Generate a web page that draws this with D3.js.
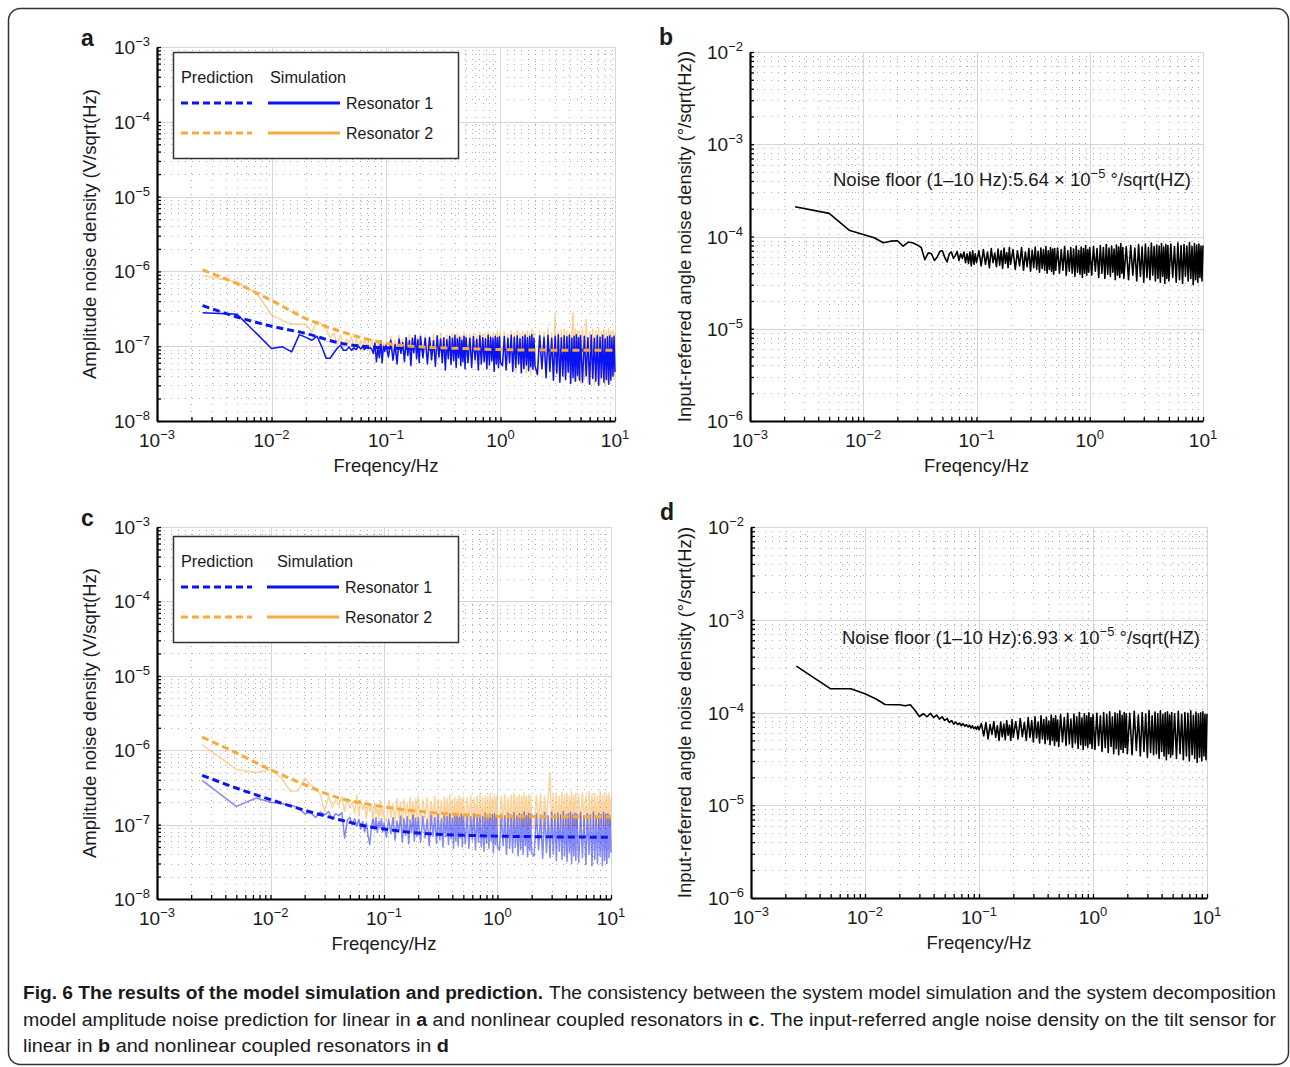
<!DOCTYPE html>
<html>
<head>
<meta charset="utf-8">
<script src="https://cdn.jsdelivr.net/npm/d3@7"></script>
<style>
  body { margin: 0; background: #fff; }
  svg text { font-family: "Liberation Sans", Arial, Helvetica, sans-serif; fill: #1a1a1a; }
  .major { stroke: #d6d6d6; stroke-width: 1; }
  .minor { stroke: #8c8c8c; stroke-width: 1; stroke-dasharray: 1 6; opacity: .7; }
</style>
</head>
<body>
<div id="fig"></div>
<script>

// frequency grid shared by all simulated / measured spectra (Hz)
const freq = [
  0.0025, 0.005, 0.0075, 0.01,
  0.0125, 0.015, 0.0175, 0.02, 0.0225, 0.025, 0.0275, 0.03, 0.0325, 0.035, 0.0375, 0.04, 0.0425, 0.045, 0.0475, 0.05,
  0.0525, 0.055, 0.0575, 0.06, 0.0625, 0.065, 0.0675, 0.07, 0.0725, 0.075, 0.0775, 0.08, 0.0825, 0.085, 0.0875, 0.09, 0.0925, 0.095, 0.0975, 0.1,
  0.105, 0.11, 0.115, 0.12, 0.125, 0.13, 0.135, 0.14, 0.145, 0.15, 0.155, 0.16, 0.165, 0.17, 0.175, 0.18, 0.185, 0.19, 0.195, 0.2,
  0.21, 0.22, 0.23, 0.24, 0.25, 0.26, 0.27, 0.28, 0.29, 0.3, 0.31, 0.32, 0.33, 0.34, 0.35, 0.36, 0.37, 0.38, 0.39, 0.4, 0.41, 0.42, 0.43, 0.44, 0.45, 0.46, 0.47, 0.48, 0.49, 0.5,
  0.52, 0.54, 0.56, 0.58, 0.6, 0.62, 0.64, 0.66, 0.68, 0.7, 0.72, 0.74, 0.76, 0.78, 0.8, 0.82, 0.84, 0.86, 0.88, 0.9, 0.92, 0.94, 0.96, 0.98, 1.0,
  1.04, 1.08, 1.12, 1.16, 1.2, 1.24, 1.28, 1.32, 1.36, 1.4, 1.44, 1.48, 1.52, 1.56, 1.6, 1.64, 1.68, 1.72, 1.76, 1.8, 1.84, 1.88, 1.92, 1.96, 2.0,
  2.1, 2.2, 2.3, 2.4, 2.5, 2.6, 2.7, 2.8, 2.9, 3.0, 3.1, 3.2, 3.3, 3.4, 3.5, 3.6, 3.7, 3.8, 3.9, 4.0, 4.1, 4.2, 4.3, 4.4, 4.5, 4.6, 4.7, 4.8, 4.9, 5.0,
  5.2, 5.4, 5.6, 5.8, 6.0, 6.2, 6.4, 6.6, 6.8, 7.0, 7.2, 7.4, 7.6, 7.8, 8.0, 8.2, 8.4, 8.6, 8.8, 9.0, 9.2, 9.4, 9.6, 9.8, 10
];

// amplitude noise, units of 1e-9 V/sqrt(Hz)
const simA1 = [
  281, 267, 145, 93,
  98, 84, 143, 131, 120, 136, 98, 69, 69, 81, 94, 103, 88, 88, 98, 88,
  95, 90, 100, 92, 98, 90, 96, 93, 95, 92, 80, 110, 62, 95, 70, 118, 60, 100, 85, 104,
  72, 120, 65, 105, 58, 125, 80, 112, 62, 130, 75, 118, 55, 128, 82, 140, 68, 122, 60, 135,
  70, 128, 58, 132, 66, 118, 54, 138, 72, 125, 60, 130, 48, 122, 68, 135, 57, 128, 64, 140, 52, 126, 70, 132, 55, 120, 62, 136, 50, 130,
  60, 128, 52, 135, 66, 124, 48, 138, 58, 130, 62, 126, 50, 140, 56, 132, 64, 128, 46, 136, 58, 130, 52, 134, 60,
  55, 135, 48, 128, 60, 140, 46, 132, 52, 138, 58, 126, 44, 134, 50, 140, 56, 130, 47, 136, 53, 142, 49, 128, 55,
  42, 138, 50, 132, 38, 140, 46, 128, 35, 136, 44, 142, 33, 130, 40, 138, 36, 134, 45, 140, 32, 128, 38, 136, 34, 142, 41, 130, 35, 138,
  33, 136, 40, 130, 31, 140, 37, 128, 34, 138, 30, 132, 38, 140, 33, 126, 36, 134, 31, 138, 35, 130, 40, 136, 45
];
const simA2 = [
  885, 720, 500, 260,
  220, 197, 197, 197, 155, 217, 197, 170, 130, 150, 105, 140, 95, 125, 110, 135,
  90, 128, 100, 118, 85, 130, 98, 112, 80, 125, 95, 108, 88, 120, 92, 115, 85, 110, 95, 105,
  75, 135, 85, 120, 70, 140, 90, 125, 68, 130, 82, 145, 72, 128, 88, 138, 65, 132, 80, 142,
  70, 140, 85, 130, 62, 145, 78, 135, 66, 150, 80, 128, 60, 142, 74, 138, 58, 148, 82, 132, 64, 150, 76, 140, 60, 135, 72, 155, 66, 138,
  62, 145, 70, 150, 58, 140, 76, 155, 56, 142, 68, 148, 52, 160, 66, 140, 60, 152, 55, 145, 70, 158, 50, 148, 62,
  55, 155, 48, 145, 62, 160, 50, 150, 45, 165, 58, 148, 46, 158, 52, 150, 44, 162, 56, 148, 42, 170, 50, 155, 48,
  40, 160, 50, 155, 38, 175, 46, 150, 36, 265, 42, 158, 35, 165, 44, 170, 34, 160, 48, 155, 32, 150, 280, 40, 168, 34, 160, 38, 162, 33,
  165, 36, 230, 32, 158, 40, 170, 30, 160, 38, 175, 31, 155, 42, 168, 29, 160, 35, 172, 33, 158, 40, 165, 36, 150
];
const simC1 = [
  393, 176, 228, 200,
  190, 182, 170, 140, 145, 125, 148, 135, 150, 118, 140, 132, 145, 66, 115, 125,
  100, 120, 95, 118, 88, 110, 80, 105, 70, 54, 95, 118, 85, 125, 78, 110, 92, 120, 80, 105,
  68, 118, 75, 125, 62, 112, 80, 130, 58, 120, 72, 128, 55, 115, 78, 135, 60, 122, 70, 126,
  58, 130, 66, 118, 52, 135, 70, 125, 56, 138, 62, 120, 50, 132, 68, 128, 54, 140, 64, 122, 48, 135, 60, 130, 52, 126, 66, 138, 50, 128,
  55, 135, 48, 128, 62, 140, 46, 132, 58, 136, 50, 128, 44, 142, 56, 130, 48, 138, 60, 134, 42, 140, 54, 128, 50,
  45, 138, 52, 132, 40, 142, 48, 135, 42, 145, 50, 130, 38, 140, 46, 136, 40, 148, 52, 132, 37, 142, 45, 138, 41,
  38, 140, 46, 135, 35, 145, 42, 132, 36, 148, 40, 138, 33, 142, 44, 136, 34, 150, 38, 134, 32, 140, 42, 146, 30, 136, 38, 142, 33, 138,
  31, 145, 36, 132, 29, 140, 40, 136, 28, 148, 34, 130, 30, 142, 38, 135, 28, 146, 33, 138, 30, 140, 36, 132, 42
];
const simC2 = [
  1190, 550, 500, 550,
  420, 280, 285, 420, 344, 300, 253, 150, 240, 170, 215, 180, 235, 150, 225, 170,
  205, 140, 250, 130, 215, 160, 190, 120, 200, 150, 180, 110, 195, 140, 170, 115, 205, 130, 175, 120,
  110, 210, 125, 190, 105, 225, 120, 200, 100, 215, 130, 195, 108, 230, 118, 205, 100, 220, 125, 240,
  105, 215, 120, 230, 98, 205, 115, 240, 102, 220, 125, 210, 95, 235, 112, 225, 100, 250, 118, 215, 96, 230, 108, 220, 100, 245, 115, 225, 98, 235,
  100, 230, 112, 245, 95, 225, 118, 240, 98, 255, 110, 230, 92, 245, 105, 235, 96, 260, 115, 228, 94, 250, 108, 240, 100,
  95, 240, 108, 255, 92, 230, 110, 250, 90, 265, 104, 238, 88, 250, 100, 245, 92, 270, 106, 240, 86, 255, 102, 245, 94,
  90, 245, 100, 260, 86, 240, 104, 255, 490, 92, 250, 102, 265, 88, 240, 106, 270, 90, 250, 100, 258, 86, 245, 104, 275, 90, 248, 98, 262, 88,
  250, 92, 268, 100, 245, 86, 280, 104, 255, 90, 262, 98, 240, 88, 285, 102, 250, 92, 270, 96, 248, 100, 265, 94, 230
];

// input-referred angle noise, units of 1e-6 deg/sqrt(Hz)
const simB = [
  210, 178, 117, 105,
  97, 85.5, 89, 90, 78.5, 87, 85, 81, 76, 56, 66.5, 65, 55, 60, 69, 70,
  59, 53, 65, 68, 58, 62, 69, 55, 65, 58, 68, 52, 65, 51, 68, 48, 70, 50, 65, 52,
  70, 48, 72, 50, 68, 46, 74, 52, 66, 47, 73, 49, 70, 45, 75, 51, 67, 46, 76, 50,
  72, 44, 70, 48, 76, 43, 68, 47, 74, 42, 71, 46, 77, 44, 69, 41, 75, 45, 72, 43, 78, 40, 70, 44, 76, 42, 73, 39, 74, 43,
  75, 40, 72, 43, 78, 38, 70, 42, 76, 40, 73, 37, 79, 41, 71, 39, 77, 36, 74, 40, 80, 38, 72, 41, 76,
  38, 78, 42, 74, 36, 80, 40, 76, 35, 82, 39, 75, 37, 79, 41, 73, 34, 81, 38, 77, 36, 84, 40, 76, 35,
  78, 34, 80, 38, 75, 33, 82, 37, 77, 32, 83, 36, 76, 34, 85, 38, 78, 33, 81, 35, 79, 32, 84, 37, 77, 31, 82, 35, 80, 33,
  83, 36, 78, 32, 85, 34, 80, 31, 82, 37, 79, 33, 86, 35, 78, 30, 84, 34, 81, 32, 83, 36, 79, 33, 80
];
const simD = [
  316, 180, 180, 159,
  140, 122, 121, 121, 118, 121, 105, 90.5, 97, 90, 98, 88, 94, 85, 90, 82,
  86, 78, 82, 75, 79, 74, 77, 72, 76, 71, 74, 70, 73, 68, 72, 67, 70, 66, 71, 65,
  76, 56, 78, 52, 74, 58, 80, 54, 72, 50, 79, 55, 75, 51, 82, 57, 73, 50, 84, 54,
  80, 52, 86, 55, 78, 50, 88, 54, 82, 48, 90, 53, 79, 47, 92, 52, 84, 46, 89, 51, 81, 45, 94, 50, 86, 44, 92, 49, 83, 43,
  95, 48, 88, 44, 98, 46, 85, 42, 96, 47, 90, 41, 100, 45, 87, 40, 97, 44, 92, 42, 99, 46, 88, 41, 95,
  40, 98, 44, 92, 38, 100, 42, 95, 37, 102, 43, 90, 36, 99, 41, 96, 35, 104, 40, 93, 37, 100, 42, 97, 36,
  98, 35, 103, 39, 94, 34, 100, 38, 96, 33, 105, 37, 92, 35, 101, 36, 97, 32, 104, 38, 95, 34, 99, 31, 102, 36, 94, 33, 100, 35,
  97, 32, 103, 36, 95, 31, 100, 34, 98, 30, 104, 35, 93, 32, 101, 29, 96, 33, 99, 30, 102, 34, 95, 31, 97
];

// model decomposition prediction (V/sqrt(Hz))
const predFreq = [0.0025, 0.005, 0.01, 0.02, 0.04, 0.07, 0.1, 0.2, 0.5, 1, 3, 10];
const predA1 = [3.5e-7, 2.46e-7, 1.85e-7, 1.48e-7, 1.1e-7, 0.98e-7, 0.95e-7, 0.92e-7, 0.9e-7, 0.89e-7, 0.88e-7, 0.88e-7];
const predA2 = [1.05e-6, 6.85e-7, 4.1e-7, 2.34e-7, 1.58e-7, 1.23e-7, 1.09e-7, 0.98e-7, 0.93e-7, 0.9e-7, 0.885e-7, 0.88e-7];
const predC1 = [4.59e-7, 3.1e-7, 2.17e-7, 1.56e-7, 1.17e-7, 0.95e-7, 0.875e-7, 0.77e-7, 0.72e-7, 0.7e-7, 0.685e-7, 0.675e-7];
const predC2 = [1.5e-6, 9.2e-7, 5.47e-7, 3.44e-7, 2.28e-7, 1.9e-7, 1.73e-7, 1.51e-7, 1.36e-7, 1.29e-7, 1.28e-7, 1.27e-7];

const xTickExp = [-3, -2, -1, 0, 1];
const ampTickExp = [-8, -7, -6, -5, -4, -3];
const angTickExp = [-6, -5, -4, -3, -2];

const blue = "#0a14f2";
const orange = "#f8ab3c";

const W = 1290, H = 1067;
const svg = d3.select('#fig').append('svg').attr('width', W).attr('height', H);

// frame round the figure
svg.append('rect')
  .attr('x', 8.5).attr('y', 8.5).attr('width', 1280).attr('height', 1056)
  .attr('rx', 12).attr('fill', 'none').attr('stroke', '#333').attr('stroke-width', 1.5);

const panels = [
  { letter: 'a', left: 157, right: 615, top: 47, bottom: 421, yExp: ampTickExp,
    yTitle: 'Amplitude noise density (V/sqrt(Hz)', titleX: 90, legendY: 52,
    sims: [{ v: simA2, unit: 1e-9, color: orange, op: .55, w: 1.5 }, { v: simA1, unit: 1e-9, color: blue, op: 1, w: 1.5 }],
    preds: [{ v: predA1, color: blue }, { v: predA2, color: orange }] },
  { letter: 'b', left: 750, right: 1203, top: 52, bottom: 421, yExp: angTickExp,
    yTitle: 'Input-referred angle noise density (°/sqrt(Hz))', titleX: 685,
    sims: [{ v: simB, unit: 1e-6, color: '#000', op: 1, w: 1.6 }], preds: [],
    note: { x: 833, y: 186, mant: '5.64' } },
  { letter: 'c', left: 157, right: 611, top: 527, bottom: 899, yExp: ampTickExp,
    yTitle: 'Amplitude noise density (V/sqrt(Hz)', titleX: 90, legendY: 536,
    sims: [{ v: simC2, unit: 1e-9, color: orange, op: .5, w: 1.5 }, { v: simC1, unit: 1e-9, color: blue, op: .5, w: 1.5 }],
    preds: [{ v: predC2, color: orange }, { v: predC1, color: blue }] },
  { letter: 'd', left: 751, right: 1207, top: 527, bottom: 898, yExp: angTickExp,
    yTitle: 'Input-referred angle noise density (°/sqrt(Hz))', titleX: 685,
    sims: [{ v: simD, unit: 1e-6, color: '#000', op: 1, w: 1.6 }], preds: [],
    note: { x: 842, y: 644, mant: '6.93' } }
];

function expText(e) { return e < 0 ? '\u2212' + (-e) : String(e); }

function minorsOf(exps) {
  const out = [];
  for (let i = 0; i < exps.length - 1; i++)
    for (let k = 2; k <= 9; k++) out.push(k * Math.pow(10, exps[i]));
  return out;
}

panels.forEach(function (p) {

  const yMin = Math.pow(10, p.yExp[0]), yMax = Math.pow(10, p.yExp[p.yExp.length - 1]);
  const x = d3.scaleLog().domain([1e-3, 10]).range([p.left, p.right]);
  const y = d3.scaleLog().domain([yMin, yMax]).range([p.bottom, p.top]);

  const xMajor = xTickExp.map(e => Math.pow(10, e));
  const yMajor = p.yExp.map(e => Math.pow(10, e));
  const xMinor = minorsOf(xTickExp);
  const yMinor = minorsOf(p.yExp);

  const g = svg.append('g');

  // grid
  g.selectAll('line.xmin').data(xMinor).enter().append('line').attr('class', 'minor')
    .attr('x1', d => Math.round(x(d)) + .5).attr('x2', d => Math.round(x(d)) + .5)
    .attr('y1', p.top).attr('y2', p.bottom);
  g.selectAll('line.ymin').data(yMinor).enter().append('line').attr('class', 'minor')
    .attr('y1', d => Math.round(y(d)) + .5).attr('y2', d => Math.round(y(d)) + .5)
    .attr('x1', p.left).attr('x2', p.right);
  g.selectAll('line.xmaj').data(xMajor).enter().append('line').attr('class', 'major')
    .attr('x1', d => Math.round(x(d)) + .5).attr('x2', d => Math.round(x(d)) + .5)
    .attr('y1', p.top).attr('y2', p.bottom);
  g.selectAll('line.ymaj').data(yMajor).enter().append('line').attr('class', 'major')
    .attr('y1', d => Math.round(y(d)) + .5).attr('y2', d => Math.round(y(d)) + .5)
    .attr('x1', p.left).attr('x2', p.right);

  const line = d3.line().x(d => x(d[0])).y(d => y(d[1]));

  p.sims.forEach(function (s) {
    const pts = freq.map((f, i) => [f, s.v[i] * s.unit]);
    g.append('path').datum(pts).attr('d', line)
      .attr('fill', 'none').attr('stroke', s.color).attr('stroke-opacity', s.op)
      .attr('stroke-width', s.w).attr('stroke-linejoin', 'round');
  });

  const smooth = d3.line().x(d => x(d[0])).y(d => y(d[1])).curve(d3.curveMonotoneX);
  p.preds.forEach(function (s) {
    g.append('path').datum(predFreq.map((f, i) => [f, s.v[i]])).attr('d', smooth)
      .attr('fill', 'none').attr('stroke', s.color).attr('stroke-width', 3)
      .attr('stroke-dasharray', '7 4');
  });

  // axes, ticks pointing inwards
  const xAxis = g.append('g').attr('transform', `translate(0,${p.bottom})`)
    .call(d3.axisBottom(x).tickValues(xMajor.concat(xMinor)).tickSize(-4).tickSizeOuter(0).tickFormat(''));
  const yAxis = g.append('g').attr('transform', `translate(${p.left},0)`)
    .call(d3.axisLeft(y).tickValues(yMajor.concat(yMinor)).tickSize(-4).tickSizeOuter(0).tickFormat(''));
  [xAxis, yAxis].forEach(a => {
    a.select('.domain').attr('stroke', '#000').attr('stroke-width', 2.2);
    a.selectAll('.tick line').attr('stroke', '#000').attr('stroke-width', 1.3);
  });

  // tick labels as 10^n
  xTickExp.forEach(function (e) {
    const t = g.append('text').attr('x', x(Math.pow(10, e))).attr('y', p.bottom + 26)
      .attr('text-anchor', 'middle').attr('font-size', 19);
    t.append('tspan').text('10');
    t.append('tspan').attr('dy', -8).attr('font-size', 13).text(expText(e));
  });
  p.yExp.forEach(function (e) {
    const t = g.append('text').attr('x', p.left - 7).attr('y', y(Math.pow(10, e)) + 7)
      .attr('text-anchor', 'end').attr('font-size', 19);
    t.append('tspan').text('10');
    t.append('tspan').attr('dy', -8).attr('font-size', 13).text(expText(e));
  });

  // axis titles
  g.append('text').attr('x', (p.left + p.right) / 2).attr('y', p.bottom + 51)
    .attr('text-anchor', 'middle').attr('font-size', 18.5).text('Freqency/Hz');
  g.append('text').attr('transform', `translate(${p.titleX},${(p.top + p.bottom) / 2}) rotate(-90)`)
    .attr('dy', 6).attr('text-anchor', 'middle').attr('font-size', 18.5).text(p.yTitle);

  // panel letter
  g.append('text').attr('x', p.left - 76 + (p.letter === 'b' || p.letter === 'd' ? -15 : 0))
    .attr('y', p.top - 1 + (p.letter === 'b' || p.letter === 'd' ? -6 : 0))
    .attr('font-size', 23).attr('font-weight', 'bold').text(p.letter);

  if (p.note) {
    const t = g.append('text').attr('x', p.note.x).attr('y', p.note.y).attr('font-size', 18.5);
    t.append('tspan').text('Noise floor (1\u201310 Hz):' + p.note.mant + ' \u00d7 10');
    t.append('tspan').attr('dy', -8).attr('font-size', 13).text('\u22125');
    t.append('tspan').attr('dy', 8).text(' \u00b0/sqrt(HZ)');
  }

  if (p.legendY !== undefined) {
    const ly = p.legendY;
    const simX = p.letter === 'a' ? 268 : 267;
    const lg = g.append('g');
    lg.append('rect').attr('x', 173.5).attr('y', ly + .5).attr('width', 285).attr('height', 106)
      .attr('fill', '#fff').attr('stroke', '#333').attr('stroke-width', 1.5);
    lg.append('text').attr('x', 181).attr('y', ly + 31).attr('font-size', 16.3).text('Prediction');
    lg.append('text').attr('x', p.letter === 'a' ? 270 : 277).attr('y', ly + 31).attr('font-size', 16.3).text('Simulation');
    [{ c: blue, name: 'Resonator 1', dy: 51 }, { c: orange, name: 'Resonator 2', dy: 81 }].forEach(function (r) {
      lg.append('line').attr('x1', 181).attr('x2', 252).attr('y1', ly + r.dy).attr('y2', ly + r.dy)
        .attr('stroke', r.c).attr('stroke-width', 3).attr('stroke-dasharray', '7 4');
      lg.append('line').attr('x1', simX).attr('x2', simX + 72).attr('y1', ly + r.dy).attr('y2', ly + r.dy)
        .attr('stroke', r.c).attr('stroke-width', 3);
      lg.append('text').attr('x', simX + 78).attr('y', ly + r.dy + 6).attr('font-size', 16).text(r.name);
    });
  }
});

// caption
const cap = svg.append('g').attr('font-size', 18);
cap.append('text').attr('x', 23).attr('y', 999).attr('font-weight', 'bold')
  .attr('textLength', 520).attr('lengthAdjust', 'spacingAndGlyphs')
  .text('Fig. 6 The results of the model simulation and prediction.');
cap.append('text').attr('x', 549).attr('y', 999)
  .attr('textLength', 727).attr('lengthAdjust', 'spacingAndGlyphs')
  .text('The consistency between the system model simulation and the system decomposition');
const l2 = cap.append('text').attr('x', 23).attr('y', 1026)
  .attr('textLength', 1253).attr('lengthAdjust', 'spacingAndGlyphs');
l2.append('tspan').text('model amplitude noise prediction for linear in ');
l2.append('tspan').attr('font-weight', 'bold').text('a');
l2.append('tspan').text(' and nonlinear coupled resonators in ');
l2.append('tspan').attr('font-weight', 'bold').text('c');
l2.append('tspan').text('. The input-referred angle noise density on the tilt sensor for');
const l3 = cap.append('text').attr('x', 23).attr('y', 1052)
  .attr('textLength', 426).attr('lengthAdjust', 'spacingAndGlyphs');
l3.append('tspan').text('linear in ');
l3.append('tspan').attr('font-weight', 'bold').text('b');
l3.append('tspan').text(' and nonlinear coupled resonators in ');
l3.append('tspan').attr('font-weight', 'bold').text('d');

</script>
</body>
</html>
